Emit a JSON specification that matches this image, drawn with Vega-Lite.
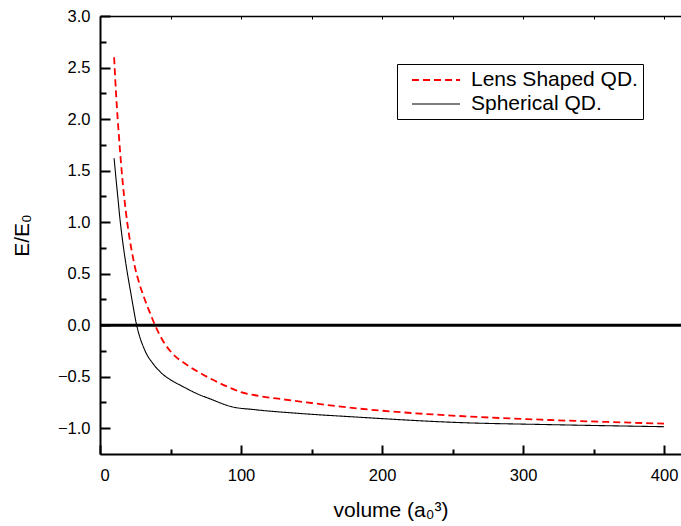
{
  "$schema": "https://vega.github.io/schema/vega-lite/v6.json",
  "width": 581,
  "height": 438,
  "autosize": "none",
  "padding": {"left": 100, "top": 16, "right": 0, "bottom": 72},
  "background": "white",
  "config": {
    "view": {"stroke": null},
    "font": "Liberation Sans",
    "axis": {
      "domainColor": "black",
      "domainWidth": 2,
      "tickColor": "black",
      "tickWidth": 2,
      "labelColor": "black",
      "labelFont": "Liberation Sans",
      "labelFontSize": 16.5,
      "titleFont": "Liberation Sans",
      "titleFontSize": 21,
      "titleFontWeight": "normal",
      "titleColor": "black",
      "grid": false
    }
  },
  "datasets": {
    "curves": [
      {"series": "Lens Shaped QD.", "x": 10, "y": 2.6},
      {"series": "Lens Shaped QD.", "x": 11.5, "y": 2.22},
      {"series": "Lens Shaped QD.", "x": 13.5, "y": 1.82},
      {"series": "Lens Shaped QD.", "x": 16, "y": 1.4},
      {"series": "Lens Shaped QD.", "x": 18, "y": 1.14},
      {"series": "Lens Shaped QD.", "x": 20, "y": 0.93},
      {"series": "Lens Shaped QD.", "x": 22.5, "y": 0.72},
      {"series": "Lens Shaped QD.", "x": 25, "y": 0.55},
      {"series": "Lens Shaped QD.", "x": 28, "y": 0.4},
      {"series": "Lens Shaped QD.", "x": 32, "y": 0.24},
      {"series": "Lens Shaped QD.", "x": 36, "y": 0.1},
      {"series": "Lens Shaped QD.", "x": 39, "y": 0.0},
      {"series": "Lens Shaped QD.", "x": 45, "y": -0.16},
      {"series": "Lens Shaped QD.", "x": 51, "y": -0.27},
      {"series": "Lens Shaped QD.", "x": 60, "y": -0.37},
      {"series": "Lens Shaped QD.", "x": 68, "y": -0.44},
      {"series": "Lens Shaped QD.", "x": 80, "y": -0.53},
      {"series": "Lens Shaped QD.", "x": 91, "y": -0.6},
      {"series": "Lens Shaped QD.", "x": 100, "y": -0.65},
      {"series": "Lens Shaped QD.", "x": 110, "y": -0.68},
      {"series": "Lens Shaped QD.", "x": 130, "y": -0.72},
      {"series": "Lens Shaped QD.", "x": 150, "y": -0.755},
      {"series": "Lens Shaped QD.", "x": 177, "y": -0.8},
      {"series": "Lens Shaped QD.", "x": 200, "y": -0.83},
      {"series": "Lens Shaped QD.", "x": 253, "y": -0.88},
      {"series": "Lens Shaped QD.", "x": 319, "y": -0.92},
      {"series": "Lens Shaped QD.", "x": 400, "y": -0.955},
      {"series": "Spherical QD.", "x": 10, "y": 1.62},
      {"series": "Spherical QD.", "x": 11.5, "y": 1.4},
      {"series": "Spherical QD.", "x": 12.8, "y": 1.22},
      {"series": "Spherical QD.", "x": 14, "y": 1.05},
      {"series": "Spherical QD.", "x": 15, "y": 0.93},
      {"series": "Spherical QD.", "x": 17, "y": 0.72},
      {"series": "Spherical QD.", "x": 19, "y": 0.54},
      {"series": "Spherical QD.", "x": 22, "y": 0.3},
      {"series": "Spherical QD.", "x": 26, "y": 0.0},
      {"series": "Spherical QD.", "x": 32, "y": -0.25},
      {"series": "Spherical QD.", "x": 38, "y": -0.38},
      {"series": "Spherical QD.", "x": 44, "y": -0.47},
      {"series": "Spherical QD.", "x": 50, "y": -0.53},
      {"series": "Spherical QD.", "x": 58, "y": -0.59},
      {"series": "Spherical QD.", "x": 68, "y": -0.66},
      {"series": "Spherical QD.", "x": 79, "y": -0.72},
      {"series": "Spherical QD.", "x": 93, "y": -0.79},
      {"series": "Spherical QD.", "x": 110, "y": -0.82},
      {"series": "Spherical QD.", "x": 140, "y": -0.855},
      {"series": "Spherical QD.", "x": 180, "y": -0.89},
      {"series": "Spherical QD.", "x": 253, "y": -0.944},
      {"series": "Spherical QD.", "x": 319, "y": -0.965},
      {"series": "Spherical QD.", "x": 400, "y": -0.985}
    ]
  },
  "layer": [
    {
      "data": {"values": [{"y": 0}]},
      "mark": {"type": "rule", "strokeWidth": 3, "color": "black"},
      "encoding": {
        "y": {
          "field": "y",
          "type": "quantitative",
          "scale": {"domain": [-1.25, 3], "nice": false, "zero": false},
          "axis": {
            "orient": "left",
            "title": "E/E₀",
            "titlePadding": 25,
            "values": [-1, -0.5, 0, 0.5, 1, 1.5, 2, 2.5, 3],
            "format": ".1f",
            "tickSize": -10,
            "labelPadding": 20
          }
        }
      }
    },
    {
      "data": {"name": "curves"},
      "mark": {"type": "line", "interpolate": "monotone"},
      "encoding": {
        "x": {
          "field": "x",
          "type": "quantitative",
          "scale": {"domain": [0, 412], "nice": false, "zero": false},
          "axis": {
            "orient": "bottom",
            "title": "volume (a₀³)",
            "titlePadding": 16,
            "values": [0, 100, 200, 300, 400],
            "tickSize": -9,
            "labelPadding": 22
          }
        },
        "y": {"field": "y", "type": "quantitative", "axis": null},
        "color": {
          "field": "series",
          "type": "nominal",
          "scale": {"domain": ["Lens Shaped QD.", "Spherical QD."], "range": ["#ff0000", "#000000"]},
          "legend": {
            "orient": "none",
            "legendX": 297,
            "legendY": 48,
            "title": null,
            "symbolType": "M-1,0H3.8",
            "symbolSize": 400,
            "symbolStrokeWidth": 1.5,
            "symbolOffset": 9,
            "labelFontSize": 21,
            "labelFont": "Liberation Sans",
            "labelColor": "black",
            "labelOffset": 38,
            "labelLimit": 400,
            "strokeColor": "black",
            "fillColor": "white",
            "padding": 5,
            "rowPadding": 3
          }
        },
        "strokeDash": {
          "field": "series",
          "type": "nominal",
          "scale": {"domain": ["Lens Shaped QD.", "Spherical QD."], "range": [[7, 4], [1, 0]]},
          "legend": {
            "orient": "none",
            "legendX": 297,
            "legendY": 48,
            "title": null,
            "symbolType": "M-1,0H3.8",
            "symbolSize": 400,
            "symbolStrokeWidth": 1.5,
            "symbolOffset": 9,
            "labelFontSize": 21,
            "labelFont": "Liberation Sans",
            "labelColor": "black",
            "labelOffset": 38,
            "labelLimit": 400,
            "strokeColor": "black",
            "fillColor": "white",
            "padding": 5,
            "rowPadding": 3
          }
        },
        "strokeWidth": {
          "field": "series",
          "type": "nominal",
          "scale": {"domain": ["Lens Shaped QD.", "Spherical QD."], "range": [1.8, 1.1]},
          "legend": null
        }
      }
    },
    {
      "data": {"name": "curves"},
      "mark": {"type": "point", "opacity": 0},
      "encoding": {
        "x": {
          "field": "x",
          "type": "quantitative",
          "axis": {
            "orient": "bottom",
            "title": null,
            "labels": false,
            "domain": false,
            "values": [50, 150, 250, 350],
            "tickSize": -5
          }
        },
        "y": {
          "field": "y",
          "type": "quantitative",
          "axis": {
            "orient": "left",
            "title": null,
            "labels": false,
            "domain": false,
            "values": [-0.75, -0.25, 0.25, 0.75, 1.25, 1.75, 2.25, 2.75],
            "tickSize": -6
          }
        }
      }
    },
    {
      "data": {"name": "curves"},
      "mark": {"type": "point", "opacity": 0},
      "encoding": {
        "x": {
          "field": "x",
          "type": "quantitative",
          "axis": {
            "orient": "top",
            "title": null,
            "labels": false,
            "domainWidth": 1.5,
            "tickWidth": 1,
            "values": [0, 50, 100, 150, 200, 250, 300, 350, 400],
            "tickSize": -3
          }
        },
        "y": {"field": "y", "type": "quantitative", "axis": null}
      }
    }
  ],
  "resolve": {"axis": {"x": "independent", "y": "independent"}}
}
